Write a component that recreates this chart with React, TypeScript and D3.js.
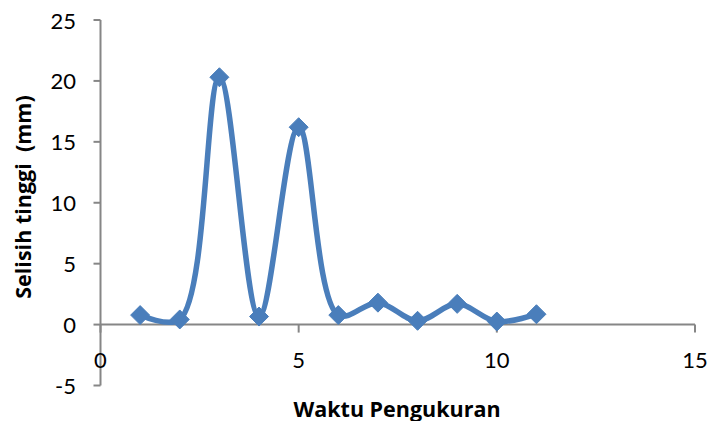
import React from "react";
import * as d3 from "d3";

const xValues = [1, 2, 3, 4, 5, 6, 7, 8, 9, 10, 11];
const yValues = [0.78, 0.42, 20.3, 0.66, 16.2, 0.78, 1.8, 0.31, 1.7, 0.25, 0.85];
const xTicks = [0, 5, 10, 15];
const yTicks = [-5, 0, 5, 10, 15, 20, 25];
const xTitle = "Waktu Pengukuran";
const yTitle = "Selisih tinggi\u00a0\u00a0(mm)";

const W = 707;
const H = 421;
const FONT = "Lato, 'Open Sans', sans-serif";
const TFONT = "'Open Sans', sans-serif";
const AXIS = "#868686";
const BLUE = "#4a7ebb";

export default function App() {
  const x = d3.scaleLinear().domain([0, 15]).range([100.5, 695]);
  const y = d3.scaleLinear().domain([-5, 25]).range([385.5, 20]);
  const pts: [number, number][] = xValues.map((v, i) => [x(v), y(yValues[i])]);
  const line = d3.line().curve(d3.curveCatmullRom.alpha(0.5))(pts) || "";
  const diamond = (cx: number, cy: number, r: number) =>
    `M${cx},${cy - r}L${cx + r},${cy}L${cx},${cy + r}L${cx - r},${cy}Z`;
  return (
    <svg
      width={W}
      height={H}
      style={{ position: "absolute", left: 0, top: 0, background: "#fff" }}
    >
      <line x1={x(0)} x2={x(0)} y1={y(25)} y2={y(-5)} stroke={AXIS} strokeWidth={2} />
      {yTicks.map((t) => (
        <g key={"y" + t}>
          <line x1={x(0) - 7} x2={x(0)} y1={y(t)} y2={y(t)} stroke={AXIS} strokeWidth={2} />
          <text
            x={76}
            y={y(t)}
            textAnchor="end"
            dominantBaseline="central"
            fontFamily={FONT}
            fontSize={22}
            fill="#000"
          >
            {t}
          </text>
        </g>
      ))}
      <line x1={x(0)} x2={x(15)} y1={y(0)} y2={y(0)} stroke={AXIS} strokeWidth={2} />
      {xTicks.map((t) => (
        <g key={"x" + t}>
          <line x1={x(t)} x2={x(t)} y1={y(0)} y2={y(0) + 8} stroke={AXIS} strokeWidth={2} />
          <text
            x={x(t)}
            y={359}
            textAnchor="middle"
            dominantBaseline="central"
            fontFamily={FONT}
            fontSize={22}
            fill="#000"
          >
            {t}
          </text>
        </g>
      ))}
      <path d={line} fill="none" stroke={BLUE} strokeWidth={5.5} strokeLinejoin="round" />
      {pts.map(([cx, cy], i) => (
        <path key={"m" + i} d={diamond(cx, cy, 9.5)} fill={BLUE} stroke={BLUE} strokeWidth={1} />
      ))}
      <text
        x={397}
        y={408}
        textAnchor="middle"
        dominantBaseline="central"
        fontFamily={TFONT}
        fontSize={21.5}
        fontWeight="bold"
        fill="#000"
      >
        {xTitle}
      </text>
      <text
        transform={`translate(22,197) rotate(-90)`}
        textAnchor="middle"
        dominantBaseline="central"
        fontFamily={TFONT}
        fontSize={21.5}
        fontWeight="bold"
        fill="#000"
      >
        {yTitle}
      </text>
    </svg>
  );
}
